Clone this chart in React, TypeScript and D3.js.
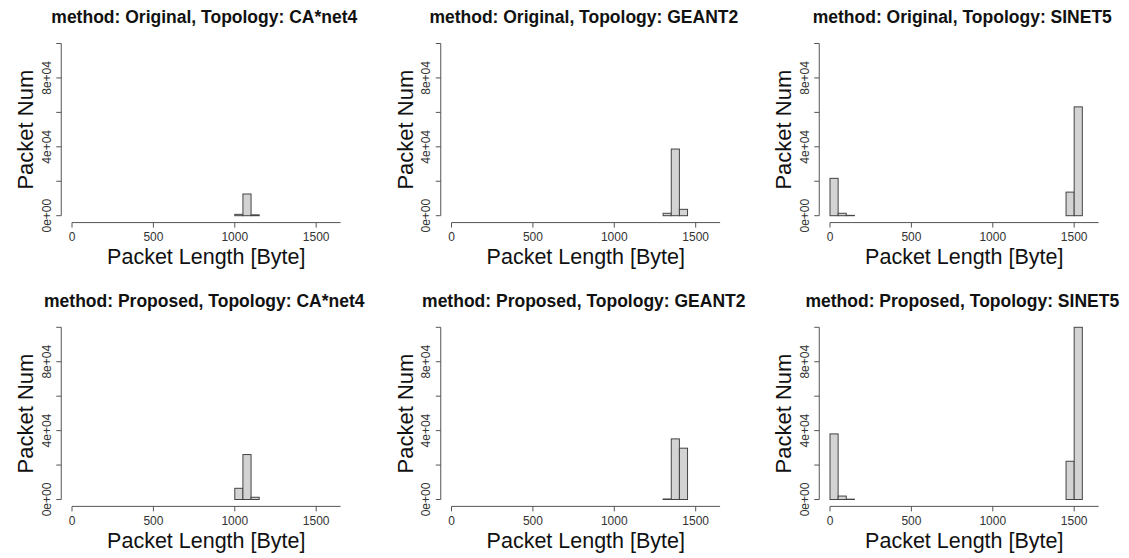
import React, { useEffect, useRef } from "react";
import * as d3 from "d3";

// histogram bins: 0..1650 by 50 bytes
const binStarts = [
  0, 50, 100, 150, 200, 250, 300, 350, 400, 450, 500, 550, 600, 650, 700, 750, 800,
  850, 900, 950, 1000, 1050, 1100, 1150, 1200, 1250, 1300, 1350, 1400, 1450, 1500, 1550, 1600,
];
const binWidth = 50;

const methods = ["Original", "Proposed"];
const topologies = ["CA*net4", "GEANT2", "SINET5"];

// counts per bin (same order as binStarts)
const origCanet = [
  0, 0, 0, 0, 0, 0, 0, 0, 0, 0, 0, 0, 0, 0, 0, 0, 0,
  0, 0, 0, 800, 12600, 500, 0, 0, 0, 0, 0, 0, 0, 0, 0, 0,
];
const origGeant = [
  0, 0, 0, 0, 0, 0, 0, 0, 0, 0, 0, 0, 0, 0, 0, 0, 0,
  0, 0, 0, 0, 0, 0, 0, 0, 0, 1400, 38700, 3700, 0, 0, 0, 0,
];
const origSinet = [
  21700, 1400, 200, 0, 0, 0, 0, 0, 0, 0, 0, 0, 0, 0, 0, 0, 0,
  0, 0, 0, 0, 0, 0, 0, 0, 0, 0, 0, 0, 13700, 63200, 0, 0,
];
const propCanet = [
  0, 0, 0, 0, 0, 0, 0, 0, 0, 0, 0, 0, 0, 0, 0, 0, 0,
  0, 0, 0, 6500, 26100, 1300, 0, 0, 0, 0, 0, 0, 0, 0, 0, 0,
];
const propGeant = [
  0, 0, 0, 0, 0, 0, 0, 0, 0, 0, 0, 0, 0, 0, 0, 0, 0,
  0, 0, 0, 0, 0, 0, 0, 0, 0, 300, 35200, 29800, 0, 0, 0, 0,
];
const propSinet = [
  38100, 2000, 200, 0, 0, 0, 0, 0, 0, 0, 0, 0, 0, 0, 0, 0, 0,
  0, 0, 0, 0, 0, 0, 0, 0, 0, 0, 0, 0, 22200, 100000, 0, 0,
];

const xTicks = [0, 500, 1000, 1500];
const yTicks = [0, 20000, 40000, 60000, 80000, 100000];
const yTickLabels = ["0e+00", "", "4e+04", "", "8e+04", ""];

const panels = [
  [origCanet, origGeant, origSinet],
  [propCanet, propGeant, propSinet],
];

const W = 1129;
const H = 558;
const FONT = "'Liberation Sans', Arial, Helvetica, sans-serif";

export default function App() {
  const ref = useRef<SVGSVGElement>(null);

  useEffect(() => {
    const svg = d3.select(ref.current);
    svg.selectAll("*").remove();

    const colX0 = [72, 451.5, 830];
    const rowY0 = [215.7, 499.5];
    const xLen = 268.6; // 0..1650
    const yLen = 172.2; // 0..1e5

    methods.forEach((method, r) => {
      topologies.forEach((topo, c) => {
        const counts = panels[r][c];
        const x0 = colX0[c];
        const y0 = rowY0[r];

        const x = d3.scaleLinear().domain([0, 1650]).range([x0, x0 + xLen]);
        const y = d3.scaleLinear().domain([0, 100000]).range([y0, y0 - yLen]);

        const g = svg.append("g");
        const axisLeftX = x(-66);
        const axisBottomY = y(-4000);

        // bars (every bin, like R hist)
        g.selectAll("rect.bar")
          .data(binStarts)
          .join("rect")
          .attr("class", "bar")
          .attr("x", (d) => x(d))
          .attr("width", (d) => x(d + binWidth) - x(d))
          .attr("y", (d, i) => y(counts[i]))
          .attr("height", (d, i) => y(0) - y(counts[i]))
          .attr("fill", "#d3d3d3")
          .attr("stroke", "#444")
          .attr("stroke-width", 1);

        // y axis
        g.append("line")
          .attr("x1", axisLeftX).attr("x2", axisLeftX)
          .attr("y1", y(0)).attr("y2", y(100000))
          .attr("stroke", "#555");
        g.selectAll("line.ytick")
          .data(yTicks)
          .join("line")
          .attr("class", "ytick")
          .attr("x1", axisLeftX - 5).attr("x2", axisLeftX)
          .attr("y1", (d) => y(d)).attr("y2", (d) => y(d))
          .attr("stroke", "#555");
        g.selectAll("text.ylab")
          .data(yTicks)
          .join("text")
          .attr("class", "ylab")
          .attr("transform", (d) => `translate(${x0 - 21.5},${y(d)}) rotate(-90)`)
          .attr("text-anchor", "middle")
          .attr("font-family", FONT)
          .attr("font-size", 12)
          .attr("fill", "#333")
          .text((d, i) => yTickLabels[i]);

        // x axis
        g.append("line")
          .attr("x1", x(0)).attr("x2", x(1650))
          .attr("y1", axisBottomY).attr("y2", axisBottomY)
          .attr("stroke", "#555");
        g.selectAll("line.xtick")
          .data(xTicks)
          .join("line")
          .attr("class", "xtick")
          .attr("x1", (d) => x(d)).attr("x2", (d) => x(d))
          .attr("y1", axisBottomY).attr("y2", axisBottomY + 5)
          .attr("stroke", "#555");
        g.selectAll("text.xlab")
          .data(xTicks)
          .join("text")
          .attr("class", "xlab")
          .attr("x", (d) => x(d))
          .attr("y", y0 + 25.5)
          .attr("text-anchor", "middle")
          .attr("font-family", FONT)
          .attr("font-size", 12)
          .attr("fill", "#333")
          .text((d) => String(d));

        // labels and title
        const cx = (axisLeftX + x(1716)) / 2;
        g.append("text")
          .attr("x", cx)
          .attr("y", y0 + 48.5)
          .attr("text-anchor", "middle")
          .attr("font-family", FONT)
          .attr("font-size", 21.5)
          .attr("fill", "#111")
          .text("Packet Length [Byte]");
        g.append("text")
          .attr("transform", `translate(${x0 - 39},${y0 - 86}) rotate(-90)`)
          .attr("text-anchor", "middle")
          .attr("font-family", FONT)
          .attr("font-size", 22)
          .attr("fill", "#111")
          .text("Packet Num");
        g.append("text")
          .attr("x", cx - 2)
          .attr("y", y0 - 192.5)
          .attr("text-anchor", "middle")
          .attr("font-family", FONT)
          .attr("font-weight", "bold")
          .attr("font-size", 17.5)
          .attr("fill", "#111")
          .text(`method: ${method}, Topology: ${topo}`);
      });
    });
  }, []);

  return (
    <svg
      ref={ref}
      width={W}
      height={H}
      style={{ position: "absolute", left: 0, top: 0, background: "#fff" }}
    />
  );
}
